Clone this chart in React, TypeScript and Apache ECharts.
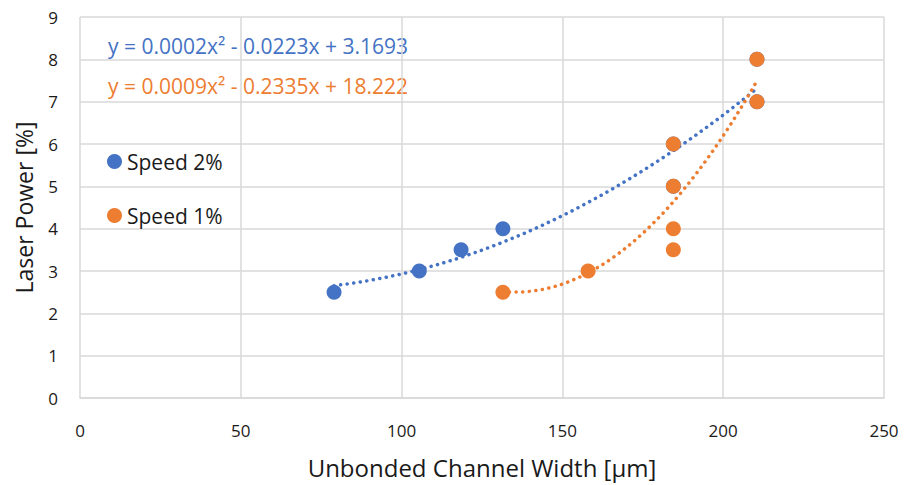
import React, { useEffect, useRef } from "react";
import * as echarts from "echarts";

const speed2X = [79, 105.5, 118.5, 131.5, 184.5, 184.5, 210.5, 210.5];
const speed2Y = [2.5, 3, 3.5, 4, 5, 6, 7, 8];
const speed1X = [131.5, 158, 184.5, 184.5, 184.5, 184.5, 210.5, 210.5];
const speed1Y = [2.5, 3, 3.5, 4, 5, 6, 7, 8];
const eqSpeed2 = "y = 0.0002x² - 0.0223x + 3.1693";
const eqSpeed1 = "y = 0.0009x² - 0.2335x + 18.222";
const xTicks = { min: 0, max: 250, interval: 50 };
const yTicks = { min: 0, max: 9, interval: 1 };

function polyFit2(xs: number[], ys: number[]): number[] {
  const n = xs.length;
  const s = [0, 0, 0, 0, 0];
  const t = [0, 0, 0];
  for (let i = 0; i < n; i++) {
    const x = xs[i];
    for (let k = 0; k < 5; k++) s[k] += Math.pow(x, k);
    for (let k = 0; k < 3; k++) t[k] += ys[i] * Math.pow(x, k);
  }
  const A = [
    [s[0], s[1], s[2], t[0]],
    [s[1], s[2], s[3], t[1]],
    [s[2], s[3], s[4], t[2]],
  ];
  for (let c = 0; c < 3; c++) {
    let p = c;
    for (let r = c + 1; r < 3; r++) if (Math.abs(A[r][c]) > Math.abs(A[p][c])) p = r;
    [A[c], A[p]] = [A[p], A[c]];
    for (let r = 0; r < 3; r++) {
      if (r === c) continue;
      const f = A[r][c] / A[c][c];
      for (let k = c; k < 4; k++) A[r][k] -= f * A[c][k];
    }
  }
  return [A[0][3] / A[0][0], A[1][3] / A[1][1], A[2][3] / A[2][2]];
}

function trend(xs: number[], ys: number[]): number[][] {
  const [a0, a1, a2] = polyFit2(xs, ys);
  const lo = Math.min(...xs);
  const hi = Math.max(...xs);
  const pts: number[][] = [];
  const steps = 80;
  for (let i = 0; i <= steps; i++) {
    const x = lo + ((hi - lo) * i) / steps;
    pts.push([x, a0 + a1 * x + a2 * x * x]);
  }
  return pts;
}

const FONT = "'Open Sans', Lato, sans-serif";
const BLUE = "#4472C4";
const ORANGE = "#ED7D31";
const TEXT = "#1a1a1a";
const GRIDC = "#d9d9d9";

export default function App() {
  const ref = useRef<HTMLDivElement>(null);
  useEffect(() => {
    if (!ref.current) return;
    const chart = echarts.init(ref.current, undefined, { renderer: "svg" });
    chart.setOption({
      animation: false,
      textStyle: { fontFamily: FONT },
      grid: { left: 80, right: 22, top: 17, bottom: 87, outerBoundsMode: "none", containLabel: false },
      xAxis: {
        type: "value",
        min: xTicks.min,
        max: xTicks.max,
        interval: xTicks.interval,
        name: "Unbonded Channel Width [μm]",
        nameLocation: "middle",
        nameGap: 57,
        nameTextStyle: { fontSize: 24, color: TEXT, fontFamily: FONT },
        axisLine: { lineStyle: { color: GRIDC, width: 1.5 } },
        axisTick: { show: false },
        axisLabel: { fontSize: 17, color: TEXT, margin: 24, fontFamily: FONT },
        splitLine: { lineStyle: { color: GRIDC, width: 1.5 } },
      },
      yAxis: {
        type: "value",
        min: yTicks.min,
        max: yTicks.max,
        interval: yTicks.interval,
        name: "Laser Power [%]",
        nameLocation: "middle",
        nameGap: 45,
        nameTextStyle: { fontSize: 23, color: TEXT, fontFamily: FONT },
        axisLine: { show: false },
        axisTick: { show: false },
        axisLabel: { fontSize: 17, color: TEXT, margin: 22, fontFamily: FONT },
        splitLine: { lineStyle: { color: GRIDC, width: 1.5 } },
      },
      legend: {
        orient: "vertical",
        left: 107,
        top: 151,
        padding: 0,
        itemGap: 33,
        itemWidth: 15,
        itemHeight: 15,
        icon: "circle",
        textStyle: { fontSize: 21, color: TEXT, fontFamily: FONT },
        data: ["Speed 2%", "Speed 1%"],
      },
      graphic: [
        {
          type: "text",
          x: 108,
          y: 46,
          style: { text: eqSpeed2, fill: BLUE, fontSize: 21, fontFamily: FONT, verticalAlign: "middle" },
        },
        {
          type: "text",
          x: 108,
          y: 86,
          style: { text: eqSpeed1, fill: ORANGE, fontSize: 21, fontFamily: FONT, verticalAlign: "middle" },
        },
      ],
      series: [
        {
          name: "Speed 2% trend",
          type: "line",
          data: trend(speed2X, speed2Y),
          showSymbol: false,
          symbol: "none",
          lineStyle: { color: BLUE, width: 3.5, type: [0.1, 6.5], cap: "round" },
          z: 1,
        },
        {
          name: "Speed 1% trend",
          type: "line",
          data: trend(speed1X, speed1Y),
          showSymbol: false,
          symbol: "none",
          lineStyle: { color: ORANGE, width: 3.5, type: [0.1, 6.5], cap: "round" },
          z: 1,
        },
        {
          name: "Speed 2%",
          type: "scatter",
          data: speed2X.map((x, i) => [x, speed2Y[i]]),
          symbolSize: 15,
          itemStyle: { color: BLUE, opacity: 1 },
          z: 3,
        },
        {
          name: "Speed 1%",
          type: "scatter",
          data: speed1X.map((x, i) => [x, speed1Y[i]]),
          symbolSize: 15,
          itemStyle: { color: ORANGE, opacity: 1 },
          z: 4,
        },
      ],
    });
    return () => chart.dispose();
  }, []);
  return (
    <div
      ref={ref}
      style={{ position: "absolute", left: 0, top: 0, width: 906, height: 485 }}
    />
  );
}
